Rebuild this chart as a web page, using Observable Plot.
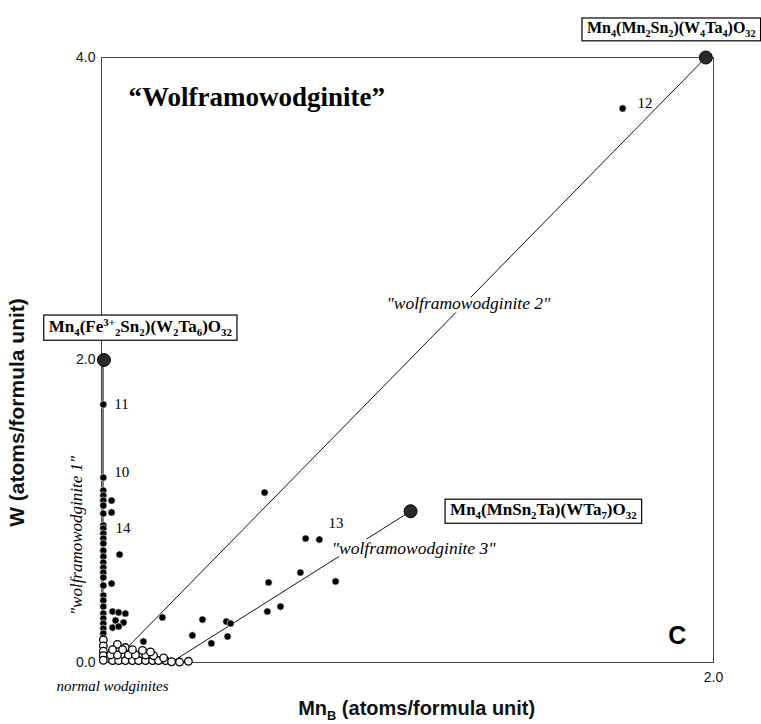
<!DOCTYPE html>
<html>
<head>
<meta charset="utf-8">
<script src="https://cdn.jsdelivr.net/npm/d3@7"></script>
<script src="https://cdn.jsdelivr.net/npm/@observablehq/plot@0.6"></script>
<style>
  html, body { margin: 0; padding: 0; background: white; }
</style>
</head>
<body>
<div id="chart"></div>
<script>
// ---- data (Mn_B, W in atoms per formula unit) ----
const xTicks = [2.0];
const yTicks = [0.0, 2.0, 4.0];

// filled circles: wolframowodginite compositions
const closedPoints = [
  [0.006, 1.706], [0.006, 1.223], [0.006, 1.137], [0.006, 1.104], [0.006, 1.071], [0.006, 1.038],
  [0.006, 0.985], [0.006, 0.906], [0.006, 0.886], [0.006, 0.853], [0.006, 0.820], [0.006, 0.787],
  [0.006, 0.740], [0.006, 0.701], [0.006, 0.661], [0.006, 0.628], [0.006, 0.595], [0.006, 0.562],
  [0.006, 0.509], [0.006, 0.443], [0.006, 0.410], [0.006, 0.370], [0.006, 0.324], [0.006, 0.291],
  [0.006, 0.258], [0.006, 0.225], [0.006, 0.192], [0.006, 0.159], [0.006, 0.126],
  [0.033, 1.071], [0.033, 0.992], [0.059, 0.714], [0.033, 0.522], [0.036, 0.337], [0.056, 0.331],
  [0.078, 0.324], [0.046, 0.278], [0.072, 0.264], [0.036, 0.231], [0.056, 0.238],
  [0.137, 0.139], [0.199, 0.298], [0.297, 0.179], [0.330, 0.284], [0.359, 0.126],
  [0.408, 0.271], [0.422, 0.258], [0.412, 0.172], [0.542, 0.337], [0.585, 0.370],
  [0.546, 0.529], [0.650, 0.595], [0.765, 0.536], [0.533, 1.124], [0.667, 0.820],
  [0.712, 0.813], [1.703, 3.663]
];

// open circles: normal wodginites
const openPoints = [
  [0.006, 0.15], [0.006, 0.11], [0.006, 0.075], [0.006, 0.045], [0.006, 0.015], [0.078, 0.099], [0.052, 0.12],
  [0.036, 0.013], [0.056, 0.013], [0.078, 0.013], [0.101, 0.013], [0.121, 0.013], [0.144, 0.013],
  [0.167, 0.013], [0.186, 0.013], [0.209, 0.013], [0.229, 0.005], [0.255, 0.003], [0.284, 0.008],
  [0.030, 0.05], [0.052, 0.05], [0.088, 0.05], [0.111, 0.05], [0.144, 0.05], [0.170, 0.045], [0.203, 0.03],
  [0.036, 0.085], [0.069, 0.085], [0.101, 0.085], [0.134, 0.08], [0.160, 0.07]
];

// end-member compositions
const endMembers = [[0.008, 2.0], [1.975, 4.0], [1.01, 1.0]];

// substitution trends
const trend1 = [[0.005, 0.0], [0.005, 2.0]];
const trend2 = [[0.085, 0.1], [1.975, 4.0]];
const trend3 = [[0.235, 0.01], [1.01, 1.0]];

// labels
const formulaLabelTop = [{text: "Mn_4(Mn_2Sn_2)(W_4Ta_4)O_{32}", x: 1.862, y: 4.196}];
const formulaLabels = [
  {text: "Mn_4(Fe^{3+}_2Sn_2)(W_2Ta_6)O_{32}", x: 0.127, y: 2.22},
  {text: "Mn_4(MnSn_2Ta)(WTa_7)O_{32}", x: 1.444, y: 1.01}
];
const trendLabels = [
  {text: "\"wolframowodginite 2\"", x: 1.199, y: 2.374},
  {text: "\"wolframowodginite 3\"", x: 1.020, y: 0.754}
];
const trend1Label = [{text: "\"wolframowodginite 1\"", x: -0.082, y: 0.84}];
const groupLabel = [{text: "normal wodginites", x: 0.036, y: -0.159}];
const pointNumbers = [
  {text: "12", x: 1.752, y: 3.696}, {text: "11", x: 0.042, y: 1.706},
  {text: "10", x: 0.042, y: 1.256}, {text: "14", x: 0.046, y: 0.886},
  {text: "13", x: 0.742, y: 0.919}
];
const titleLabel = [{text: "\u201CWolframowodginite\u201D", x: 0.088, y: 3.735}];
const panelLabel = [{text: "C", x: 1.882, y: 0.172}];
const xAxisLabel = [{text: "Mn_B (atoms/formula unit)", x: 1.03, y: -0.305}];
const yAxisLabel = [{text: "W (atoms/formula unit)", x: -0.275, y: 1.653}];

const serif = "'Liberation Serif', 'Times New Roman', serif";
const sans = "'Liberation Sans', Arial, sans-serif";
const X = d => d[0], Y = d => d[1];

const chart = Plot.plot({
  width: 761,
  height: 724,
  marginLeft: 101,
  marginRight: 48,
  marginTop: 57,
  marginBottom: 62,
  x: {domain: [0, 2]},
  y: {domain: [0, 4]},
  style: {fontFamily: sans, background: "white", overflow: "visible"},
  marks: [
    Plot.frame({stroke: "#444", strokeWidth: 1}),
    Plot.axisY({ticks: yTicks, tickFormat: d3.format(".1f"), tickSize: 0, tickPadding: 6, fontSize: 14, label: null, fill: "#111"}),
    Plot.axisX({ticks: xTicks, tickFormat: d3.format(".1f"), tickSize: 0, tickPadding: 10, fontSize: 14, label: null, fill: "#111"}),
    Plot.line(trend1, {x: X, y: Y, stroke: "#222", strokeWidth: 1.2}),
    Plot.line(trend2, {x: X, y: Y, stroke: "#111", strokeWidth: 1}),
    Plot.line(trend3, {x: X, y: Y, stroke: "#111", strokeWidth: 1}),
    Plot.dot(closedPoints, {x: X, y: Y, r: 3.6, fill: "black", stroke: "white", strokeWidth: 0.6}),
    Plot.dot(openPoints, {x: X, y: Y, r: 3.8, fill: "white", stroke: "black", strokeWidth: 1.3}),
    Plot.dot(endMembers, {x: X, y: Y, r: 6.5, fill: "#2a2a2a", stroke: "black", strokeWidth: 1}),
    Plot.text(titleLabel, {x: "x", y: "y", text: "text", textAnchor: "start", fontFamily: serif, fontWeight: "bold", fontSize: 27, fill: "black"}),
    Plot.text(trendLabels, {x: "x", y: "y", text: "text", fontFamily: serif, fontStyle: "italic", fontSize: 17.5, fill: "black", stroke: "white", strokeWidth: 7}),
    Plot.text(trend1Label, {x: "x", y: "y", text: "text", rotate: -90, fontFamily: serif, fontStyle: "italic", fontSize: 17, fill: "black"}),
    Plot.text(groupLabel, {x: "x", y: "y", text: "text", fontFamily: serif, fontStyle: "italic", fontSize: 15, fill: "black"}),
    Plot.text(pointNumbers, {x: "x", y: "y", text: "text", textAnchor: "start", fontFamily: serif, fontSize: 15, fill: "black"}),
    Plot.text(formulaLabelTop, {x: "x", y: "y", text: "text", fontFamily: serif, fontWeight: "bold", fontSize: 16, fill: "black", className: "boxed"}),
    Plot.text(formulaLabels, {x: "x", y: "y", text: "text", fontFamily: serif, fontWeight: "bold", fontSize: 17, fill: "black", className: "boxed"}),
    Plot.text(panelLabel, {x: "x", y: "y", text: "text", fontFamily: sans, fontWeight: "bold", fontSize: 25, fill: "black"}),
    Plot.text(xAxisLabel, {x: "x", y: "y", text: "text", fontFamily: sans, fontWeight: "bold", fontSize: 20, fill: "#111"}),
    Plot.text(yAxisLabel, {x: "x", y: "y", text: "text", rotate: -90, fontFamily: sans, fontWeight: "bold", fontSize: 21, fill: "#111"})
  ]
});

document.getElementById("chart").appendChild(chart);

// ---- sub/superscript rendering for _x, _{..}, ^{..} markup ----
const NS = "http://www.w3.org/2000/svg";
function richify(el) {
  const s = el.textContent;
  if (!/[_^]/.test(s)) return;
  const fs = parseFloat(getComputedStyle(el).fontSize) || 15;
  el.textContent = "";
  let shift = 0;
  const add = (txt, mode) => {
    const t = document.createElementNS(NS, "tspan");
    t.textContent = txt;
    const target = mode === "_" ? fs * 0.24 : mode === "^" ? -fs * 0.36 : 0;
    t.setAttribute("dy", target - shift);
    shift = target;
    if (mode) t.setAttribute("font-size", fs * 0.64);
    el.appendChild(t);
  };
  const re = /([_^])(\{[^}]*\}|.)/g;
  let last = 0, m;
  while ((m = re.exec(s))) {
    if (m.index > last) add(s.slice(last, m.index), null);
    add(m[2].replace(/[{}]/g, ""), m[1]);
    last = re.lastIndex;
  }
  if (last < s.length) add(s.slice(last), null);
}
chart.querySelectorAll("text").forEach(richify);

// ---- boxes around the end-member formulas ----
chart.querySelectorAll("g.boxed text").forEach(t => {
  const b = t.getBBox();
  const r = document.createElementNS(NS, "rect");
  r.setAttribute("x", b.x - 5);
  r.setAttribute("y", b.y - 1);
  r.setAttribute("width", b.width + 10);
  r.setAttribute("height", b.height + 3);
  r.setAttribute("fill", "white");
  r.setAttribute("stroke", "black");
  r.setAttribute("stroke-width", 1.2);
  const tr = t.getAttribute("transform");
  if (tr) r.setAttribute("transform", tr);
  t.parentNode.insertBefore(r, t);
});
</script>
</body>
</html>
